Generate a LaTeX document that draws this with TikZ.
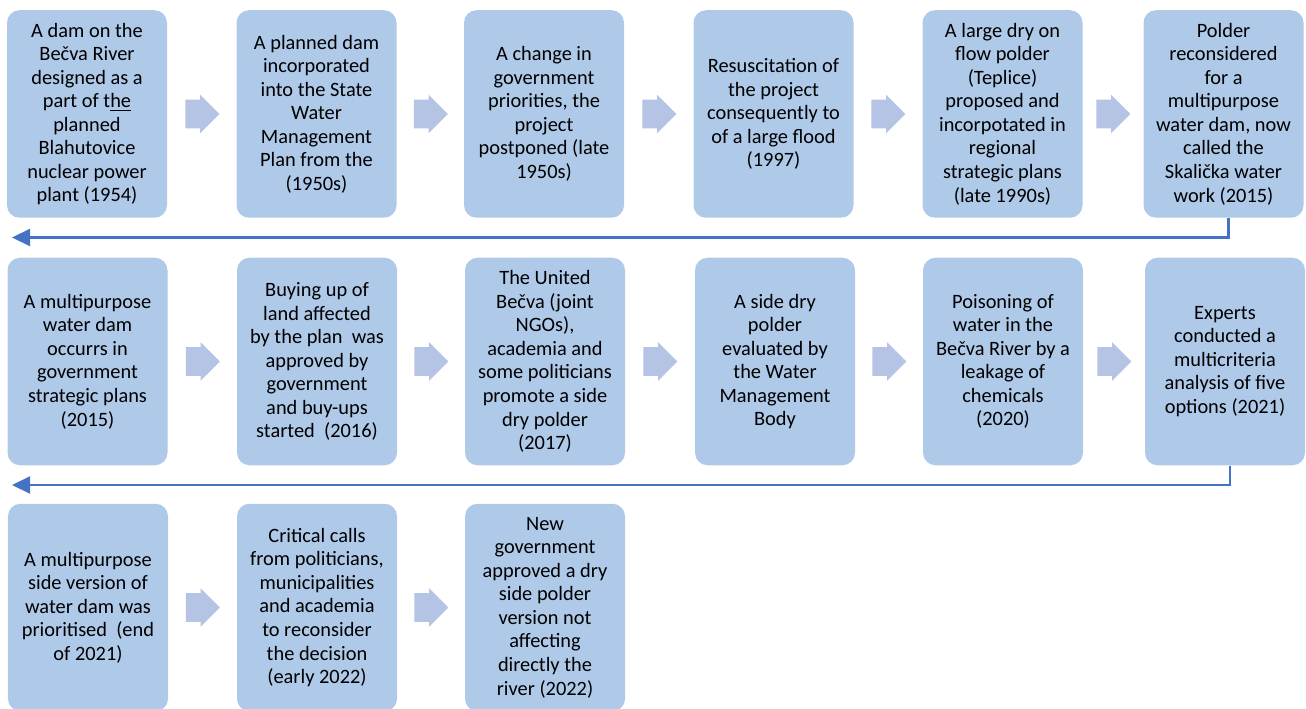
\documentclass[tikz,border=0pt]{standalone}
\usepackage{fontspec}
\setmainfont{Carlito}
\usetikzlibrary{shapes.arrows,arrows.meta}
\definecolor{boxblue}{RGB}{175,201,233}
\definecolor{chevblue}{RGB}{181,195,229}
\definecolor{lineblue}{RGB}{68,114,196}

\begin{document}
\begin{tikzpicture}[
    event/.style={rectangle, rounded corners=0.25cm, fill=boxblue, minimum width=3.2cm, minimum height=4.15cm, align=center, inner sep=2pt, text=black, font=\fontsize{11.6}{13.4}\selectfont},
    chev/.style={single arrow, fill=chevblue, anchor=tail, inner xsep=0pt, inner ysep=0.28cm, single arrow head extend=0.1cm, minimum height=0.68cm},
    back/.style={draw=lineblue, line width=1.2pt, -{Triangle[length=0.36cm,width=0.34cm]}}
]
\useasboundingbox (0,0) rectangle (26.12,-14.18);

% Erste Reihe
\node[event] at (1.74,-2.28) (e1) {A dam on the\\Bečva River\\designed as a\\part of t\underline{he}\\planned\\Blahutovice\\nuclear power\\plant (1954)};
\node[event] at (6.33,-2.28) (e2) {A planned dam\\incorporated\\into the State\\Water\\Management\\Plan from the\\(1950s)};
\node[event] at (10.88,-2.28) (e3) {A change in\\government\\priorities, the\\project\\postponed (late\\1950s)};
\node[event] at (15.47,-2.28) (e4) {Resuscitation of\\the project\\consequently to\\of a large flood\\(1997)};
\node[event] at (20.05,-2.28) (e5) {A large dry on\\flow polder\\(Teplice)\\proposed and\\incorpotated in\\regional\\strategic plans\\(late 1990s)};
\node[event] at (24.47,-2.28) (e6) {Polder\\reconsidered\\for a\\multipurpose\\water dam, now\\called the\\Skalička water\\work (2015)};

% Pfeile erste Reihe (tail)
\node[chev] at (3.70,-2.28) (c1) {};
\node[chev] at (8.27,-2.28) (c2) {};
\node[chev] at (12.84,-2.28) (c3) {};
\node[chev] at (17.42,-2.28) (c4) {};
\node[chev] at (21.92,-2.28) (c5) {};

% Zweite Reihe
\node[event] at (1.75,-7.23) (e7) {A multipurpose\\water dam\\occurrs in\\government\\strategic plans\\(2015)};
\node[event] at (6.34,-7.23) (e8) {Buying up of\\land affected\\by the plan~~was\\approved by\\government\\and buy-ups\\started~~(2016)};
\node[event] at (10.9,-7.23) (e9) {The United\\Bečva (joint\\NGOs),\\academia and\\some politicians\\promote a side\\dry polder\\(2017)};
\node[event] at (15.5,-7.23) (e10) {A side dry\\polder\\evaluated by\\the Water\\Management\\Body};
\node[event] at (20.06,-7.23) (e11) {Poisoning of\\water in the\\Bečva River by a\\leakage of\\chemicals\\(2020)};
\node[event] at (24.5,-7.23) (e12) {Experts\\conducted a\\multicriteria\\analysis of five\\options (2021)};

% Pfeile zweite Reihe (tail)
\node[chev] at (3.71,-7.23) (c6) {};
\node[chev] at (8.28,-7.23) (c7) {};
\node[chev] at (12.86,-7.23) (c8) {};
\node[chev] at (17.44,-7.23) (c9) {};
\node[chev] at (21.94,-7.23) (c10) {};

% Dritte Reihe
\node[event] at (1.76,-12.15) (e13) {A multipurpose\\side version of\\water dam was\\prioritised~~(end\\of 2021)};
\node[event] at (6.34,-12.15) (e14) {Critical calls\\from politicians,\\municipalities\\and academia\\to reconsider\\the decision\\(early 2022)};
\node[event] at (10.9,-12.15) (e15) {New\\government\\approved a dry\\side polder\\version not\\affecting\\directly the\\river (2022)};

% Pfeile dritte Reihe (tail)
\node[chev] at (3.71,-12.15) (c11) {};
\node[chev] at (8.28,-12.15) (c12) {};

% Rueckfuehrungen
\coordinate (r1) at (0.24,-4.75);
\coordinate (r2) at (0.24,-9.70);
\draw[back] ([xshift=0.1cm]e6.south) |- (r1);
\draw[back] ([xshift=0.1cm]e12.south) |- (r2);
\end{tikzpicture}
\end{document}
